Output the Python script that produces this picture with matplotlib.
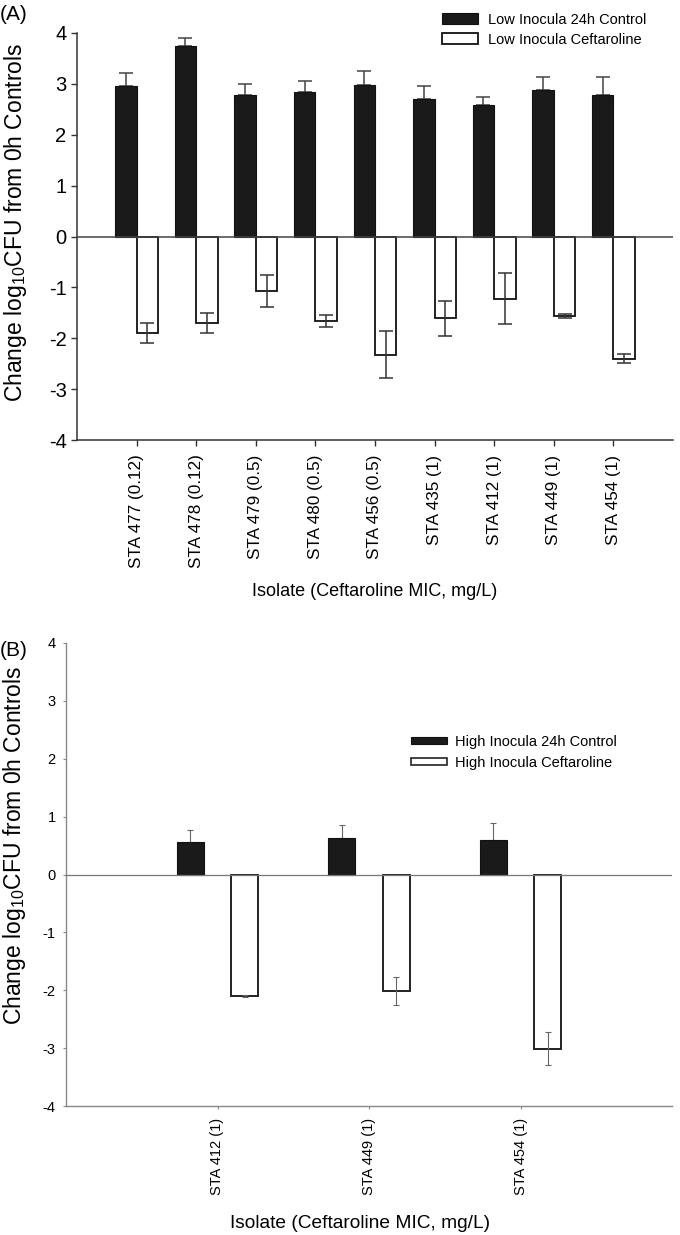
import matplotlib
matplotlib.use("Agg")
import matplotlib.pyplot as plt
from matplotlib import font_manager
from matplotlib.patches import Patch
import numpy as np

names = {f.name for f in font_manager.fontManager.ttflist}
REG = "Liberation Sans" if "Liberation Sans" in names else "DejaVu Sans"

plt.rcParams['font.family'] = [REG, 'DejaVu Sans']
plt.rcParams['mathtext.fontset'] = 'custom'
plt.rcParams['mathtext.rm'] = REG
plt.rcParams['mathtext.it'] = REG

# ---------------- data ----------------
isolates_a = ["STA 477 (0.12)", "STA 478 (0.12)", "STA 479 (0.5)", "STA 480 (0.5)",
              "STA 456 (0.5)", "STA 435 (1)", "STA 412 (1)", "STA 449 (1)", "STA 454 (1)"]
low_control = [2.96, 3.74, 2.78, 2.85, 2.98, 2.70, 2.58, 2.87, 2.78]
low_control_err = [0.25, 0.17, 0.22, 0.21, 0.28, 0.26, 0.17, 0.26, 0.35]
low_ceft = [-1.90, -1.70, -1.07, -1.66, -2.32, -1.61, -1.22, -1.57, -2.40]
low_ceft_err = [0.20, 0.20, 0.32, 0.12, 0.47, 0.34, 0.50, 0.04, 0.09]

isolates_b = ["STA 412 (1)", "STA 449 (1)", "STA 454 (1)"]
high_control = [0.56, 0.63, 0.60]
high_control_err = [0.21, 0.22, 0.29]
high_ceft = [-2.10, -2.01, -3.01]
high_ceft_err = [0.01, 0.24, 0.29]

yticks = [-4, -3, -2, -1, 0, 1, 2, 3, 4]
ylabel = "Change log$_{10}$CFU from 0h Controls"
xlabel = "Isolate (Ceftaroline MIC, mg/L)"

W, H = 680, 1235
fig = plt.figure(figsize=(W / 100, H / 100), dpi=100)

def fx(p):
    return p / W

def fy(p):
    return 1 - p / H

# ---------------- Panel A ----------------
axA = fig.add_axes([fx(77), fy(440), fx(673 - 77), fy(33) - fy(440)])
xa = np.arange(1, len(isolates_a) + 1)
axA.bar(xa - 0.18, low_control, width=0.36, color='#1a1a1a', edgecolor='#111111',
        linewidth=0.8, zorder=3, label="Low Inocula 24h Control")
axA.errorbar(xa - 0.18, low_control, yerr=[np.zeros(len(xa)), low_control_err], fmt='none',
             ecolor='#444444', elinewidth=1.1, capsize=5, capthick=1.1, zorder=2)
axA.bar(xa + 0.18, low_ceft, width=0.36, color='white', edgecolor='#111111',
        linewidth=1.3, zorder=3, label="Low Inocula Ceftaroline")
axA.errorbar(xa + 0.18, low_ceft, yerr=low_ceft_err, fmt='none',
             ecolor='#333333', elinewidth=1.1, capsize=5, capthick=1.1, zorder=4)
axA.axhline(0, color='#444444', linewidth=1.1, zorder=3.5)
axA.set_xlim(0, 10)
axA.set_ylim(-4, 4)
axA.set_yticks(yticks)
axA.set_yticklabels([str(v) for v in yticks], fontsize=14.5)
axA.set_xticks(xa)
axA.set_xticklabels(isolates_a, rotation=90, fontsize=12.3, va='top')
for s in ['top', 'right']:
    axA.spines[s].set_visible(False)
for s in ['left', 'bottom']:
    axA.spines[s].set_color('#333333')
    axA.spines[s].set_linewidth(1.1)
axA.tick_params(axis='y', length=4.5, width=1.0, color='#333333', pad=3)
axA.tick_params(axis='x', length=4.5, width=1.0, color='#333333', pad=6)
axA.set_ylabel(ylabel, fontsize=16.5)
axA.yaxis.set_label_coords(-(77 - 29) / 596, (440 - 222) / 407)
axA.set_xlabel(xlabel, fontsize=13)
axA.xaxis.set_label_coords((375 - 77) / 596, -(592 - 440) / 407)
axA.xaxis.label.set_va('center')
legA = axA.legend(loc='upper left', bbox_to_anchor=(fx(442), fy(12.5)),
                  bbox_transform=fig.transFigure, frameon=False, fontsize=10.5,
                  handlelength=2.45, handleheight=0.85, handletextpad=0.7,
                  labelspacing=0.42, borderpad=0, borderaxespad=0)
fig.text(fx(0), fy(15), "(A)", fontsize=15, va='center', ha='left')

# ---------------- Panel B ----------------
axB = fig.add_axes([fx(66), fy(1106), fx(672 - 66), fy(643) - fy(1106)])
xb = np.arange(1, len(isolates_b) + 1)
axB.bar(xb - 0.18, high_control, width=0.18, color='#1a1a1a', edgecolor='#111111',
        linewidth=0.8, zorder=3, label="High Inocula 24h Control")
axB.errorbar(xb - 0.18, high_control, yerr=[np.zeros(len(xb)), high_control_err], fmt='none',
             ecolor='#666666', elinewidth=0.8, capsize=2.5, capthick=0.8, zorder=2)
axB.bar(xb + 0.18, high_ceft, width=0.18, color='white', edgecolor='#222222',
        linewidth=1.4, zorder=3, label="High Inocula Ceftaroline")
axB.errorbar(xb + 0.18, high_ceft, yerr=high_ceft_err, fmt='none',
             ecolor='#666666', elinewidth=0.8, capsize=2.5, capthick=0.8, zorder=4)
axB.axhline(0, color='#777777', linewidth=0.9, zorder=3.5)
axB.set_xlim(0, 4)
axB.set_ylim(-4, 4)
axB.set_yticks(yticks)
axB.set_yticklabels([str(v) for v in yticks], fontsize=10.5)
axB.set_xticks(xb)
axB.set_xticklabels(isolates_b, rotation=90, fontsize=10.5, va='top')
for s in ['top', 'right']:
    axB.spines[s].set_visible(False)
for s in ['left', 'bottom']:
    axB.spines[s].set_color('#888888')
    axB.spines[s].set_linewidth(1.0)
axB.tick_params(axis='y', length=2.5, width=0.8, color='#888888', pad=5)
axB.tick_params(axis='x', length=2.5, width=0.8, color='#888888', pad=6)
axB.set_ylabel(ylabel, fontsize=16.5)
axB.yaxis.set_label_coords(-(66 - 28) / 606, (1106 - 845) / 463)
axB.set_xlabel(xlabel, fontsize=13.8)
axB.xaxis.set_label_coords((360 - 66) / 606, -(1223 - 1106) / 463)
axB.xaxis.label.set_va('center')
legB = axB.legend(handles=[Patch(facecolor='#1a1a1a', edgecolor='#111111', linewidth=0.8),
                           Patch(facecolor='white', edgecolor='#222222', linewidth=1.2)],
                  labels=["High Inocula 24h Control", "High Inocula Ceftaroline"],
                  loc='upper left', bbox_to_anchor=(fx(411), fy(735)),
                  bbox_transform=fig.transFigure, frameon=False,
                  prop={'size': 10.5},
                  handlelength=2.5, handleheight=0.35, handletextpad=0.55,
                  labelspacing=0.45, borderpad=0, borderaxespad=0)
fig.text(fx(0), fy(650), "(B)", fontsize=15, va='center', ha='left')

fig.savefig("out.png", dpi=100)
